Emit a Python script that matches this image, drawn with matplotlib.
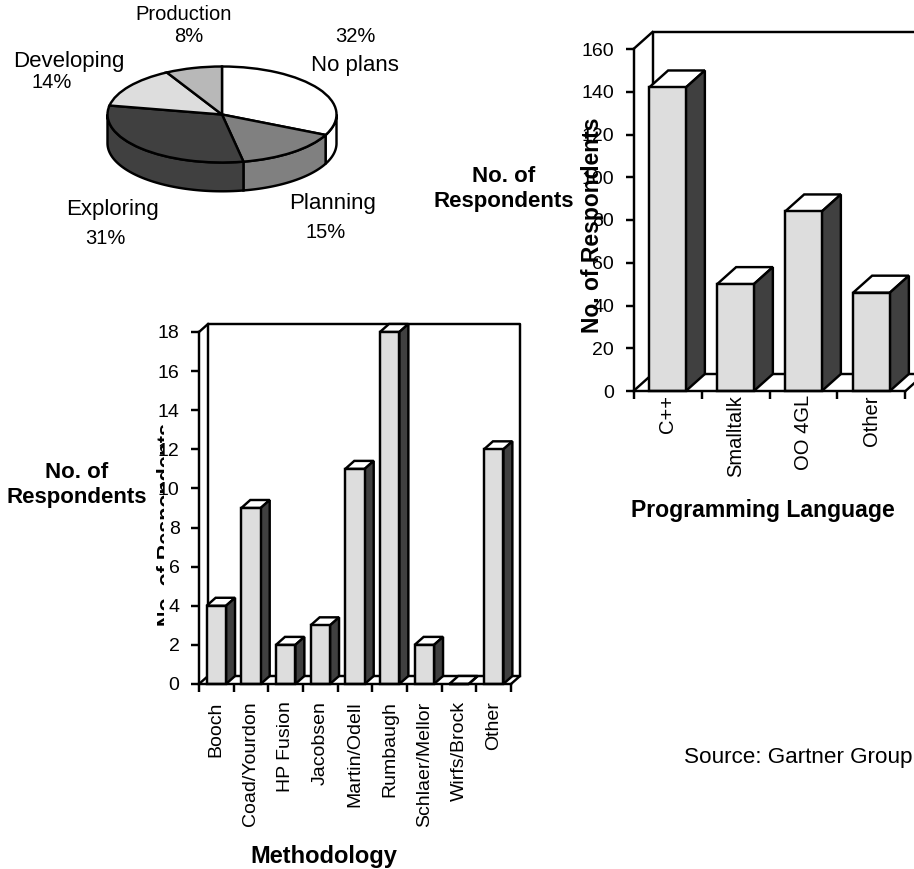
import numpy as np
import matplotlib
matplotlib.use('Agg')
import matplotlib.pyplot as plt
from matplotlib.transforms import Bbox

plt.rcParams['font.family'] = ['Liberation Sans', 'DejaVu Sans']

W, H = 914, 869

pie_labels = ['No plans', 'Planning', 'Exploring', 'Developing', 'Production']
pie_shares = [32, 15, 31, 14, 8]
pie_colors = ['#ffffff', '#808080', '#404040', '#dddddd', '#b8b8b8']

lang_names = ['C++', 'Smalltalk', 'OO 4GL', 'Other']
lang_counts = [142, 50, 84, 46]
lang_ticks = [0, 20, 40, 60, 80, 100, 120, 140, 160]

meth_names = ['Booch', 'Coad/Yourdon', 'HP Fusion', 'Jacobsen', 'Martin/Odell',
              'Rumbaugh', 'Schlaer/Mellor', 'Wirfs/Brock', 'Other']
meth_counts = [4, 9, 2, 3, 11, 18, 2, 0, 12]
meth_ticks = [0, 2, 4, 6, 8, 10, 12, 14, 16, 18]

LW = 1.75
FS = 14
BIG = 16
BOLD = 16


def px_axes(fig, x0, y0, x1, y1):
    # pixel box, y measured from the top of the image
    return fig.add_axes([x0 / W, 1 - y1 / H, (x1 - x0) / W, (y1 - y0) / H])


def label(fig, x, y, s, **kw):
    kw.setdefault('ha', 'center')
    kw.setdefault('va', 'center')
    kw.setdefault('fontsize', FS)
    return fig.text(x / W, 1 - y / H, s, **kw)


def clip_px(t, x0, y0, x1, y1):
    t.set_clip_box(Bbox.from_extents(x0, H - y1, x1, H - y0))
    t.set_clip_on(True)


def bar3d(ax, names, vals, ticks, ymax, dx, dy, width, name_pad, name_size):
    n = len(names)
    ax.set_xlim(0, n)
    ax.set_ylim(0, ymax)
    ax.patch.set_visible(False)
    line = dict(color='k', lw=LW, clip_on=False, solid_capstyle='projecting')
    # back walls
    ax.plot([dx, dx, n + dx, n + dx], [dy, ymax + dy, ymax + dy, dy], **line)
    ax.plot([0, dx, n + dx, n], [0, dy, dy, 0], **line)
    ax.plot([0, dx], [ymax, ymax + dy], **line)
    for i, v in enumerate(vals):
        x0 = i + 0.5 - width / 2
        x1 = i + 0.5 + width / 2
        ax.fill([x0, x0 + dx, x1 + dx, x1], [v, v + dy, v + dy, v], fc='white',
                ec='k', lw=LW, clip_on=False, zorder=3)
        ax.fill([x1, x1 + dx, x1 + dx, x1], [0, dy, v + dy, v], fc='#404040',
                ec='k', lw=LW, clip_on=False, zorder=3)
        ax.bar(i + 0.5, v, width, fc='#dddddd', ec='k', lw=LW, clip_on=False, zorder=3)
    for s in ['top', 'right']:
        ax.spines[s].set_visible(False)
    for s in ['left', 'bottom']:
        ax.spines[s].set_linewidth(LW)
        ax.spines[s].set_zorder(4)
    ax.set_yticks(ticks)
    ax.tick_params(axis='y', length=6, width=LW, pad=8, labelsize=FS)
    ax.set_xticks(np.arange(n + 1))
    ax.set_xticklabels([])
    ax.tick_params(axis='x', which='major', length=6, width=LW)
    ax.set_xticks(np.arange(n) + 0.5, minor=True)
    ax.set_xticklabels(names, minor=True, rotation=90, fontsize=name_size)
    ax.tick_params(axis='x', which='minor', length=0, pad=name_pad)


def pie3d(ax, shares, colors, thick):
    ax.pie(shares, colors=colors, startangle=90, counterclock=False, radius=1,
           wedgeprops=dict(edgecolor='k', linewidth=LW, zorder=3))
    ax.set_aspect('auto')
    ax.set_xlim(-1, 1)
    ax.set_ylim(-1, 1)
    # side wall, only the front half of the disc shows
    edges = np.cumsum([0] + shares) / sum(shares) * 2 * np.pi
    for a0, a1, c in zip(edges[:-1], edges[1:], colors):
        a0, a1 = max(a0, np.pi / 2), min(a1, 3 * np.pi / 2)
        if a1 <= a0:
            continue
        t = np.linspace(a0, a1, 60)
        xs = np.r_[np.sin(t), np.sin(t[::-1])]
        ys = np.r_[np.cos(t) - thick, np.cos(t[::-1])]
        ax.fill(xs, ys, fc=c, ec='k', lw=LW, clip_on=False, zorder=2)


fig = plt.figure(figsize=(W / 100, H / 100), dpi=100, facecolor='white')

ax_pie = px_axes(fig, 107.5, 66.5, 336.5, 162.5)
pie3d(ax_pie, pie_shares, pie_colors, 0.6)
for c in ax_pie.get_children():
    if hasattr(c, 'set_clip_on'):
        c.set_clip_on(False)

label(fig, 184, 15, pie_labels[4], fontsize=14.5)
label(fig, 189, 36, '8%', fontsize=14.5)
t = label(fig, 13, 61, pie_labels[3], ha='left', fontsize=BIG)
clip_px(t, 0, 40, 122.5, 80)
label(fig, 52, 82, '14%', fontsize=14.5)
label(fig, 355, 37, '32%', fontsize=14.5)
label(fig, 354.5, 65, pie_labels[0], fontsize=BIG)
label(fig, 333, 204, pie_labels[1], fontsize=BIG)
label(fig, 326, 232, '15%', fontsize=14.5)
label(fig, 113, 209, pie_labels[2], fontsize=BIG)
label(fig, 105, 239, '31%', fontsize=14.5)

ax_lang = px_axes(fig, 633.5, 49, 905.5, 391)
bar3d(ax_lang, lang_names, lang_counts, lang_ticks, 160, 19 / 68, 17 * 160 / 342, 0.54, 3, 14.5)
label(fig, 593, 225, 'No. of Respondents', rotation=90, fontweight='bold', fontsize=16.5)
label(fig, 504, 176, 'No. of', fontweight='bold', fontsize=BOLD)
label(fig, 504, 202, 'Respondents', fontweight='bold', fontsize=BOLD)
label(fig, 763, 511, 'Programming Language', fontweight='bold', fontsize=16.6)

ax_meth = px_axes(fig, 199, 332, 511, 684)
bar3d(ax_meth, meth_names, meth_counts, meth_ticks, 18, 9 / 34.67, 8 * 18 / 352, 0.56, 12.5, FS)
t = label(fig, 167, 524, 'No. of Respondents', rotation=90, fontweight='bold', fontsize=15.4)
clip_px(t, 150, 400, 163.5, 650)
label(fig, 77, 473, 'No. of', fontweight='bold', fontsize=BOLD)
label(fig, 77, 497, 'Respondents', fontweight='bold', fontsize=BOLD)
label(fig, 324, 857, 'Methodology', fontweight='bold', fontsize=17)

label(fig, 798, 758, 'Source: Gartner Group', fontsize=16.2)

fig.savefig('out.png', dpi=100)
